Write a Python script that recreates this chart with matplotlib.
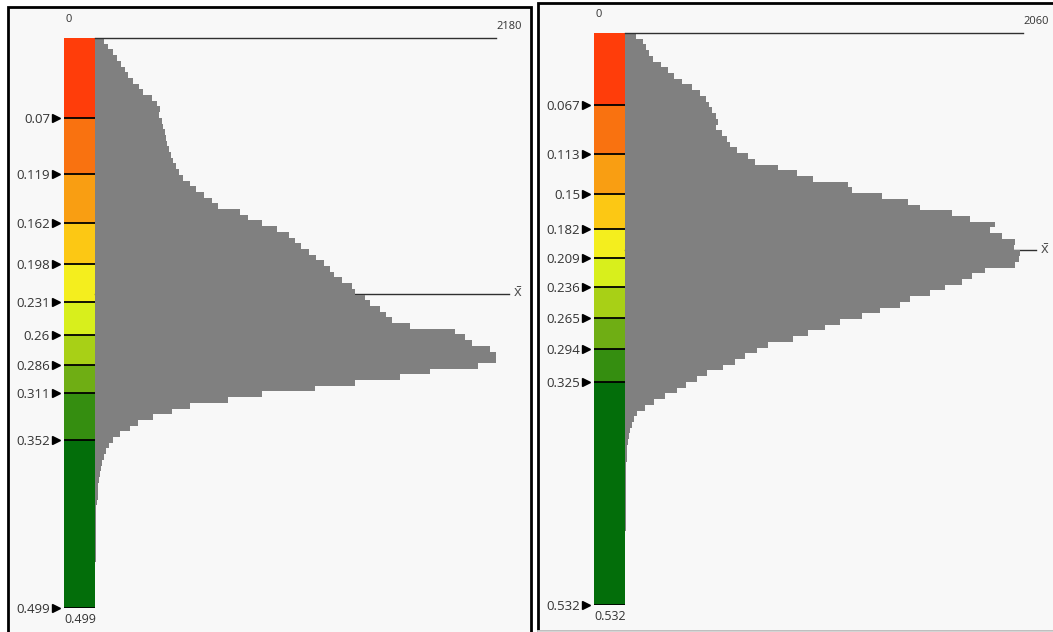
import numpy as np
import matplotlib.pyplot as plt
from matplotlib.patches import Rectangle

plt.rcParams['font.family'] = ['Open Sans', 'DejaVu Sans']
plt.rcParams['mathtext.default'] = 'regular'

# ---- data ----
class_colors = ['#ff3d0a', '#f97210', '#f99e12', '#fcc814', '#f4ee1e',
                '#d8ef1c', '#a8d016', '#6fae14', '#358e10', '#036e0a']

left_breaks = [0, 0.07, 0.119, 0.162, 0.198, 0.231, 0.26, 0.286, 0.311, 0.352, 0.499]
left_labels = ['0.07', '0.119', '0.162', '0.198', '0.231', '0.26', '0.286', '0.311', '0.352', '0.499']
left_max = 2180
left_mean = 0.224
left_counts = [
    49, 71, 98, 120, 141, 163, 180, 207, 239, 261,
    310, 337, 354, 348, 364, 370, 381, 386, 392, 403,
    413, 424, 441, 457, 479, 517, 549, 593, 636, 669,
    789, 832, 908, 990, 1055, 1088, 1121, 1164, 1202, 1246,
    1278, 1300, 1344, 1398, 1414, 1469, 1496, 1550, 1583, 1616,
    1714, 1958, 2013, 2051, 2149, 2205, 2180, 2082, 1822, 1659,
    1414, 1197, 908, 723, 517, 419, 316, 234, 190, 136,
    98, 76, 60, 49, 38, 33, 27, 22, 19, 16,
    14, 11, 8, 7, 6, 5, 5, 4, 4, 3,
    3, 3, 2, 2, 2, 2, 1, 1, 1, 1,
]

right_breaks = [0, 0.067, 0.113, 0.15, 0.182, 0.209, 0.236, 0.265, 0.294, 0.325, 0.532]
right_labels = ['0.067', '0.113', '0.15', '0.182', '0.209', '0.236', '0.265', '0.294', '0.325', '0.532']
right_max = 2060
right_mean = 0.202
right_counts = [
    57, 93, 109, 124, 145, 186, 223, 254, 295, 347,
    388, 419, 435, 450, 471, 481, 471, 502, 528, 543,
    580, 637, 673, 792, 890, 973, 1154, 1175, 1330, 1465,
    1527, 1693, 1786, 1915, 1889, 1951, 2019, 2013, 2045, 2039,
    2019, 1863, 1796, 1744, 1656, 1579, 1475, 1423, 1320, 1227,
    1113, 1035, 947, 870, 740, 683, 621, 569, 507, 424,
    373, 316, 269, 207, 150, 104, 62, 47, 36, 26,
    21, 16, 12, 10, 8, 7, 6, 6, 5, 5,
    4, 4, 4, 3, 3, 3, 3, 2, 2, 2,
    2, 2, 1, 1, 1, 1, 1, 1, 1, 1,
]

W, H = 1053, 632
fig = plt.figure(figsize=(W / 100, H / 100), dpi=100)
fig.patch.set_facecolor('white')


def px_axes(x0, y0, x1, y1):
    return fig.add_axes([x0 / W, 1 - y1 / H, (x1 - x0) / W, (y1 - y0) / H])


def panel_box(x0, y0, x1, y1, edge):
    fig.patches.append(Rectangle((x0 / W, 1 - y1 / H), (x1 - x0) / W, (y1 - y0) / H,
                                 transform=fig.transFigure, facecolor='#f8f8f8',
                                 edgecolor=edge, linewidth=2, zorder=-5))


def draw_panel(bar_box, hist_right, breaks, labels, counts, cmax, mean):
    x0, y0, x1, y1 = bar_box
    vmax = breaks[-1]
    txt = '#333333'

    # class colour bar with break ticks
    cb = px_axes(x0, y0, x1, y1)
    cb.set_facecolor('none')
    cb.barh(breaks[:-1], 1, height=np.diff(breaks), left=0, align='edge',
            color=class_colors, linewidth=0)
    cb.hlines(breaks[1:], 0, 1, color='black', lw=1.3)
    cb.plot(np.full(len(breaks) - 1, -0.25), breaks[1:], ls='none', marker='>',
            ms=6, color='black', transform=cb.get_yaxis_transform(), clip_on=False)
    cb.set_xlim(0, 1)
    cb.set_ylim(vmax, 0)
    cb.set_xticks([])
    cb.set_yticks(breaks[1:])
    cb.set_yticklabels(labels, fontsize=9.5, color=txt)
    cb.tick_params(axis='y', length=0, pad=10)
    for s in cb.spines.values():
        s.set_visible(False)
    cb.text(0.05, 1.022, '0', transform=cb.transAxes, ha='left', va='bottom',
            fontsize=8, color=txt)
    cb.text(0.0, -0.008, labels[-1], transform=cb.transAxes, ha='left', va='top',
            fontsize=9, color=txt)

    # histogram
    ax = px_axes(x1, y0, hist_right, y1)
    ax.set_facecolor('none')
    ax.stairs(counts, np.linspace(0, vmax, len(counts) + 1), orientation='horizontal',
              fill=True, color='#808080', linewidth=0)
    ax.plot([0, cmax], [0, 0], color='#303030', lw=1, clip_on=False)
    ax.annotate(str(cmax), (cmax, 0), xytext=(0, 12), textcoords='offset pixels',
                ha='left', va='center', fontsize=8, color=txt)
    yt = ax.get_yaxis_transform()
    ax.plot([0, 1.033], [mean, mean], color='#303030', lw=1, transform=yt,
            clip_on=False, zorder=0.5)
    ax.text(1.042, mean, r'$\bar{x}$', transform=yt, ha='left', va='center',
            fontsize=10.5, color='#505050')
    ax.set_xlim(0, cmax)
    ax.set_ylim(vmax, 0)
    ax.axis('off')


panel_box(8, 7, 531, 650, 'black')
panel_box(538, 3, 1070, 631, 'black')
fig.add_artist(plt.Line2D([538 / W, 1], [1 - 631 / H] * 2, color='#d4d4d4', lw=2))

draw_panel((64, 38, 95, 608), 496, left_breaks, left_labels, left_counts, left_max, left_mean)
draw_panel((594, 33, 625, 605), 1023, right_breaks, right_labels, right_counts, right_max, right_mean)

fig.savefig('out.png', dpi=100)
